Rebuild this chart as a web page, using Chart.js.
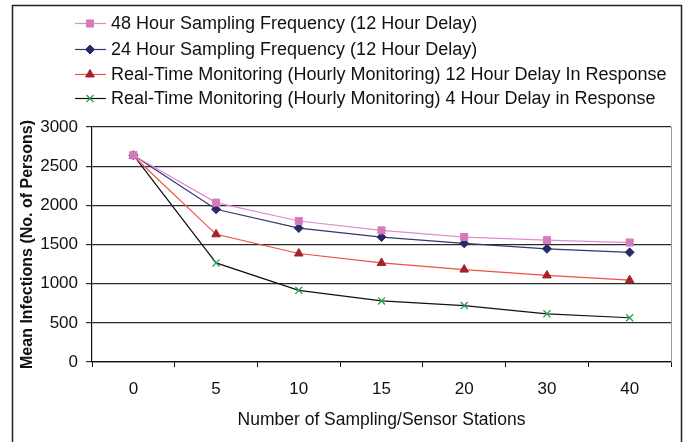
<!DOCTYPE html>
<html>
<head>
<meta charset="utf-8">
<script src="https://cdn.jsdelivr.net/npm/chart.js@4.4.1/dist/chart.umd.min.js"></script>
<style>
    body { margin: 0; background: #fff; }
</style>
</head>
<body>
<canvas id="report" width="691" height="442"></canvas>
<script>
// data
const stations = ['0', '5', '10', '15', '20', '30', '40'];
const freq48h = [2640, 2035, 1800, 1680, 1595, 1555, 1525];
const freq24h = [2640, 1950, 1710, 1595, 1515, 1445, 1400];
const realTime12h = [2630, 1630, 1385, 1265, 1180, 1105, 1045];
const realTime4h = [2640, 1265, 915, 780, 720, 615, 565];
const seriesNames = [
    '48 Hour Sampling Frequency (12 Hour Delay)',
    '24 Hour Sampling Frequency (12 Hour Delay)',
    'Real-Time Monitoring (Hourly Monitoring) 12 Hour Delay In Response',
    'Real-Time Monitoring (Hourly Monitoring) 4 Hour Delay in Response'
];
const yMin = 0, yMax = 3000, yStep = 500;

const FONT = "'Liberation Sans', Arial, Helvetica, sans-serif";

function series(label, data, line, mark, style, radius) {
    return {
        label: label,
        data: data,
        borderColor: line,
        borderWidth: 1.2,
        pointStyle: style,
        pointRadius: radius,
        pointBackgroundColor: mark,
        pointBorderColor: mark,
        pointBorderWidth: style === 'crossRot' ? 1.3 : 1,
        tension: 0,
        fill: false
    };
}

// legend + frame drawn on the canvas
const legendRows = [23, 49, 74, 98];
const frame = {
    id: 'frame',
    afterDraw(chart) {
        const ctx = chart.ctx;
        const area = chart.chartArea;
        ctx.save();
        ctx.strokeStyle = '#222';
        ctx.lineWidth = 1.5;
        ctx.strokeRect(12.5, 5.5, 669, 500);

        ctx.strokeStyle = '#999';
        ctx.lineWidth = 1;
        ctx.beginPath();
        ctx.moveTo(Math.round(area.right) + 0.5, area.top);
        ctx.lineTo(Math.round(area.right) + 0.5, area.bottom);
        ctx.stroke();

        chart.data.datasets.forEach((ds, i) => {
            const y = legendRows[i];
            ctx.strokeStyle = ds.borderColor;
            ctx.lineWidth = 1.2;
            ctx.beginPath();
            ctx.moveTo(75, y + 0.5);
            ctx.lineTo(106, y + 0.5);
            ctx.stroke();
            ctx.fillStyle = ds.pointBackgroundColor;
            ctx.strokeStyle = ds.pointBorderColor;
            ctx.lineWidth = ds.pointBorderWidth;
            Chart.helpers.drawPoint(ctx, {
                pointStyle: ds.pointStyle,
                radius: ds.pointRadius,
                borderWidth: ds.pointBorderWidth,
                rotation: 0
            }, 90, y + 0.5);
            ctx.fillStyle = '#111';
            ctx.font = '18px ' + FONT;
            ctx.textBaseline = 'middle';
            ctx.textAlign = 'left';
            ctx.fillText(ds.label, 111, y + 1);
        });
        ctx.restore();
    }
};

const ctx = document.getElementById('report').getContext('2d');
let myChart = new Chart(ctx, {
    type: 'line',
    data: {
        labels: stations,
        datasets: [
            series(seriesNames[0], freq48h, '#e08ccb', '#d77abb', 'rect', 5),
            series(seriesNames[1], freq24h, '#34366f', '#272a66', 'rectRot', 4.5),
            series(seriesNames[2], realTime12h, '#f0503e', '#a3222a', 'triangle', 5),
            series(seriesNames[3], realTime4h, '#111111', '#22a055', 'crossRot', 5)
        ]
    },
    options: {
        responsive: false,
        animation: false,
        layout: { padding: { left: 12, right: 20, top: 127, bottom: 0 } },
        plugins: {
            legend: { display: false },
            tooltip: { enabled: false }
        },
        scales: {
            x: {
                offset: true,
                grid: {
                    offset: true,
                    drawOnChartArea: false,
                    drawTicks: true,
                    tickLength: 5,
                    color: '#111'
                },
                border: { color: '#111', width: 1.2 },
                ticks: {
                    color: '#111',
                    padding: 12,
                    font: { family: FONT, size: 17 }
                },
                title: {
                    display: true,
                    text: 'Number of Sampling/Sensor Stations',
                    color: '#111',
                    padding: { top: 4, bottom: 11 },
                    font: { family: FONT, size: 17.5 }
                },
                afterFit: s => { s.height = 80; }
            },
            y: {
                min: yMin,
                max: yMax,
                grid: {
                    color: '#2a2a2a',
                    lineWidth: 1.2,
                    tickLength: 6
                },
                border: { color: '#111', width: 1.2 },
                ticks: {
                    stepSize: yStep,
                    color: '#111',
                    padding: 8,
                    font: { family: FONT, size: 17 },
                    callback: v => String(v)
                },
                title: {
                    display: true,
                    text: 'Mean Infections (No. of Persons)',
                    color: '#111',
                    padding: { top: 6, bottom: 0 },
                    font: { family: FONT, size: 16, weight: 'bold' }
                },
                afterFit: s => { s.width = 80; }
            }
        }
    },
    plugins: [frame]
});
</script>
</body>
</html>
